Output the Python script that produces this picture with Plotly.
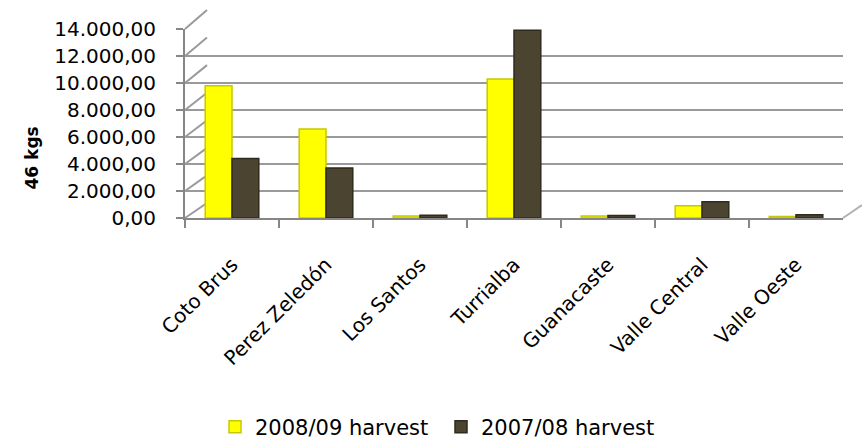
import plotly.graph_objects as go

categories = ["Coto Brus", "Perez Zeledón", "Los Santos", "Turrialba",
              "Guanacaste", "Valle Central", "Valle Oeste"]
harvest_2008_09 = [9800, 6600, 150, 10300, 150, 900, 120]
harvest_2007_08 = [4400, 3700, 200, 13900, 180, 1200, 250]
y_ticks = [0, 2000, 4000, 6000, 8000, 10000, 12000, 14000]
y_ticklabels = ["0,00", "2.000,00", "4.000,00", "6.000,00", "8.000,00",
                "10.000,00", "12.000,00", "14.000,00"]

W, H = 862, 443
def fx(px): return px / W
def fy(py): return 1 - py / H

FONT = "DejaVu Sans"
AX = "#868686"

fig = go.Figure()

# helper traces to establish categories on front axis and back wall subplot
fig.add_trace(go.Scatter(x=categories, y=[0] * len(categories), mode="markers",
                         marker=dict(opacity=0), showlegend=False, hoverinfo="skip",
                         xaxis="x", yaxis="y"))
fig.add_trace(go.Scatter(x=categories, y=[0] * len(categories), mode="markers",
                         marker=dict(opacity=0), showlegend=False, hoverinfo="skip",
                         xaxis="x3", yaxis="y3"))

fig.add_trace(go.Bar(x=categories, y=harvest_2008_09, name="2008/09 harvest",
                     marker=dict(color="#FFFF00", line=dict(color="#C8C800", width=1.5)),
                     xaxis="x2", yaxis="y2"))
fig.add_trace(go.Bar(x=categories, y=harvest_2007_08, name="2007/08 harvest",
                     marker=dict(color="#4A4430", line=dict(color="#2F2B1E", width=1.5)),
                     xaxis="x2", yaxis="y2"))

# side-wall diagonal grid lines
shapes = []
for v in y_ticks:
    front_y = 218 - v / 14000 * 189
    back_y = 203 - v / 14000 * 193
    shapes.append(dict(type="line", xref="paper", yref="paper",
                       x0=fx(185), y0=fy(front_y), x1=fx(207), y1=fy(back_y),
                       line=dict(color="#9A9A9A", width=2), layer="below"))
shapes.append(dict(type="line", xref="paper", yref="paper",
                   x0=fx(843), y0=fy(218), x1=fx(862), y1=fy(205),
                   line=dict(color="#B0B0B0", width=2), layer="below"))

fig.update_layout(
    width=W, height=H,
    margin=dict(l=0, r=0, t=0, b=0, pad=0, autoexpand=False),
    paper_bgcolor="white", plot_bgcolor="rgba(0,0,0,0)",
    font=dict(family=FONT, size=20, color="black"),
    barmode="group", bargap=0.43, bargroupgap=0,
    showlegend=True,
    legend=dict(orientation="h", x=fx(441), xanchor="center", y=fy(427), yanchor="middle",
                font=dict(family=FONT, size=21, color="black"),
                entrywidth=181, traceorder="normal"),
    shapes=shapes,
    xaxis=dict(domain=[fx(185), fx(843)], type="category", range=[-0.5, 6.5],
               categoryorder="array", categoryarray=categories,
               showline=True, linecolor=AX, linewidth=2,
               ticks="outside", tickson="boundaries", ticklen=8, tickcolor=AX, tickwidth=2,
               tickangle=-45, tickfont=dict(family=FONT, size=20),
               ticklabelstandoff=25, automargin=False,
               showgrid=False, zeroline=False, anchor="y", fixedrange=True),
    yaxis=dict(domain=[fy(218), fy(29)], range=[0, 14000],
               tickvals=y_ticks, ticktext=y_ticklabels,
               showline=True, linecolor=AX, linewidth=2,
               ticks="outside", ticklen=7, tickcolor=AX, tickwidth=2,
               ticklabelstandoff=16, automargin=False,
               tickfont=dict(family=FONT, size=20),
               showgrid=False, zeroline=False, anchor="x"),
    xaxis2=dict(domain=[fx(198), fx(856)], type="category", range=[-0.5, 6.5],
                categoryorder="array", categoryarray=categories, automargin=False,
                overlaying="x", visible=False, anchor="y2"),
    yaxis2=dict(domain=[fy(211), fy(20)], range=[0, 14000], automargin=False,
                overlaying="y", visible=False, anchor="x2"),
    xaxis3=dict(domain=[fx(207), fx(862)], type="category", range=[-0.5, 6.5],
                categoryorder="array", categoryarray=categories, automargin=False,
                overlaying="x", visible=False, anchor="y3"),
    yaxis3=dict(domain=[fy(203), fy(10)], range=[0, 14000],
                tickvals=y_ticks, showticklabels=False, ticks="", automargin=False,
                showline=False, showgrid=True, gridcolor="#9A9A9A", gridwidth=2,
                zeroline=False, overlaying="y", anchor="x3"),
    annotations=[dict(text="<b>46 kgs</b>", xref="paper", yref="paper",
                      x=fx(19), y=fy(125), textangle=-90, showarrow=False,
                      font=dict(family=FONT, size=17, color="black"))],
)

fig.write_html("out.html", config={"displayModeBar": False},
               post_script="document.body.style.margin='0';document.body.style.overflow='hidden';")
